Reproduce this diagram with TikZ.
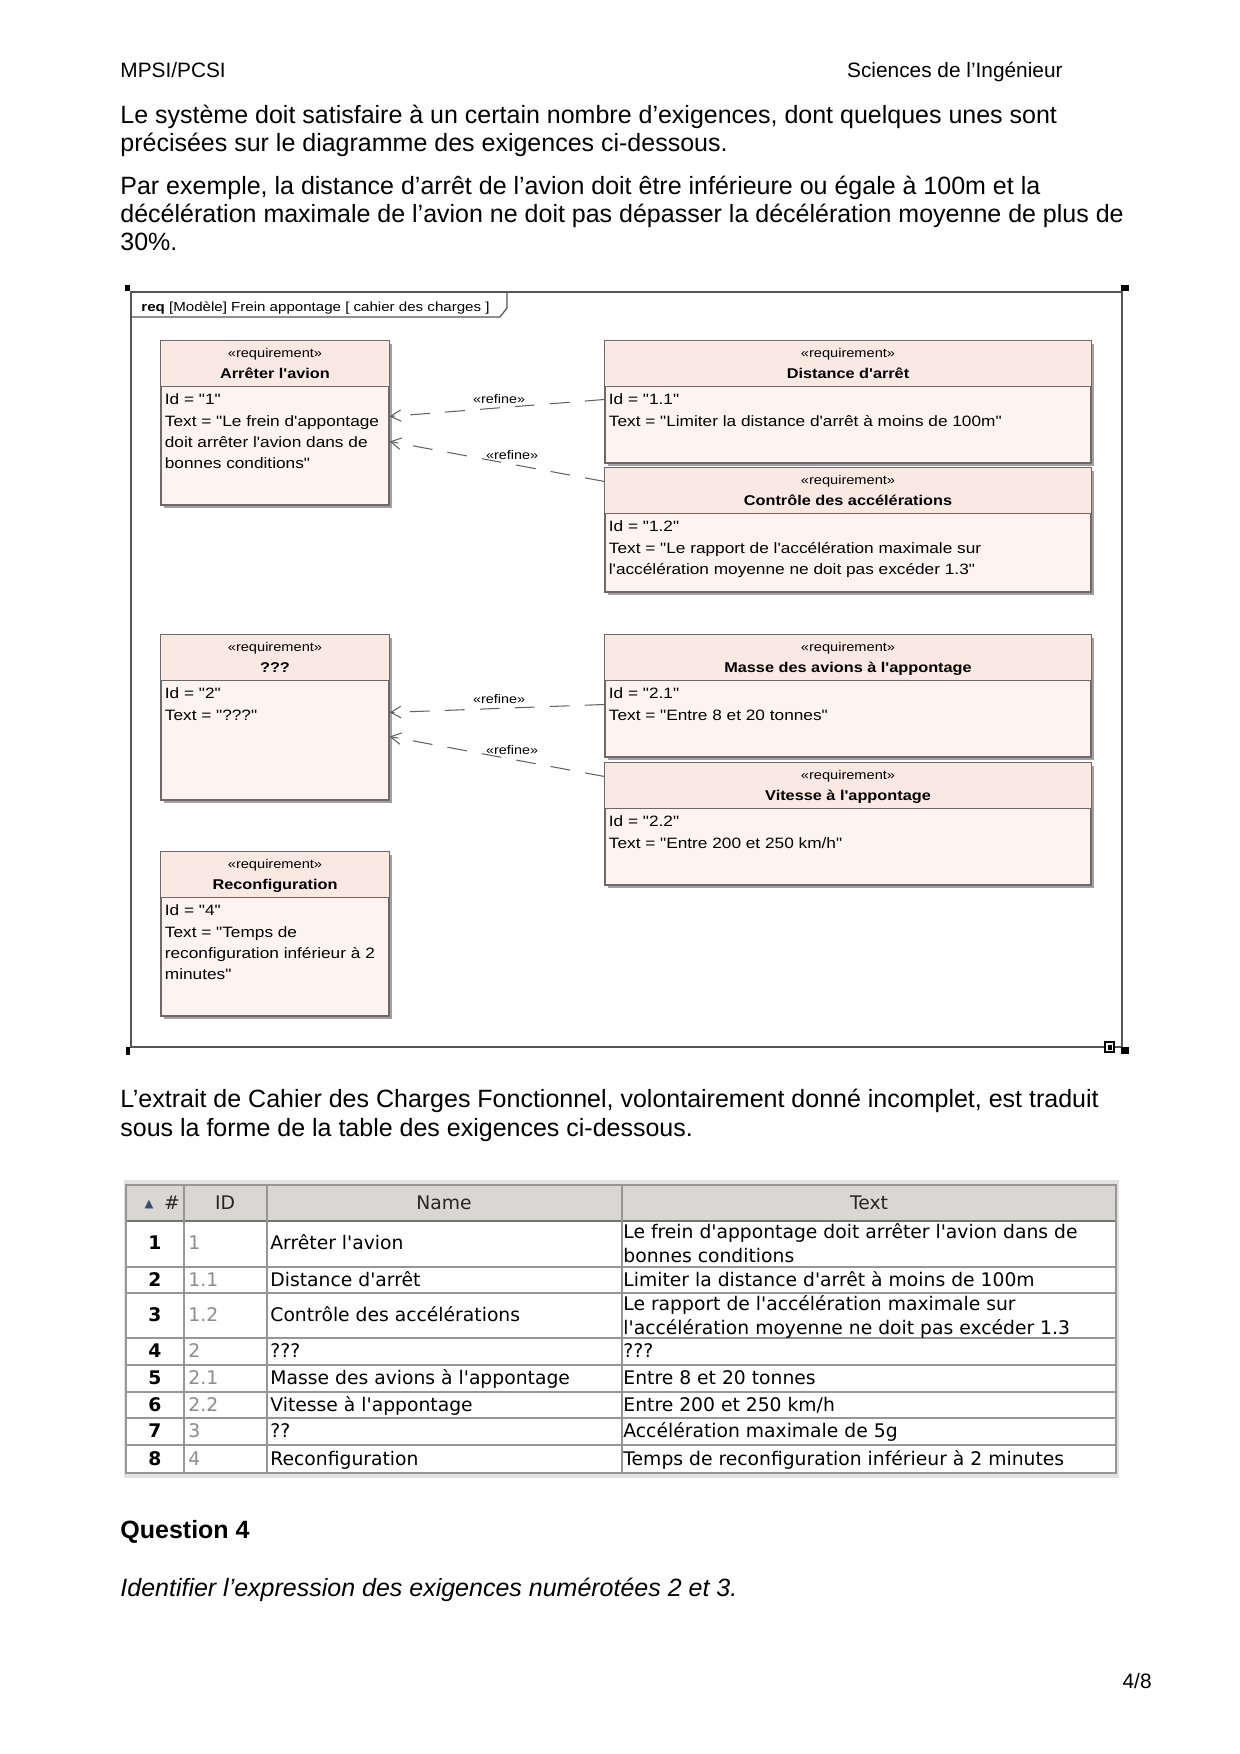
\documentclass[tikz,border=0pt]{standalone}
\usepackage{fontspec}
\setmainfont{Liberation Sans}
\newfontfamily\umlfont[FakeStretch=1.15,Ligatures=TeXOff]{Liberation Sans}
\newfontfamily\tabfont[Ligatures=TeXOff]{DejaVu Sans}
\usepackage{xcolor}
\usetikzlibrary{arrows.meta,positioning,calc,fit}

\definecolor{reqhead}{RGB}{250,232,226}
\definecolor{reqfill}{RGB}{253,243,240}
\definecolor{reqedge}{RGB}{110,104,104}
\definecolor{reqshadow}{RGB}{165,160,160}
\definecolor{framegray}{RGB}{85,85,85}
\definecolor{tabhead}{RGB}{217,215,211}
\definecolor{tabouter}{RGB}{226,226,224}
\definecolor{tabrule}{RGB}{150,150,150}
\definecolor{idgray}{RGB}{140,140,140}

\begin{document}
\begin{tikzpicture}[
  x=0.48pt, y=-0.48pt,
  every node/.style={inner sep=0pt},
  pagetxt/.style={font=\fontsize{12}{14}\selectfont, anchor=base west},
  req/.style={draw=reqedge, line width=0.5pt, fill=reqfill,
    preaction={fill=reqshadow, transform canvas={xshift=1.3pt,yshift=-1.3pt}}},
  headfill/.style={fill=reqhead},
  comp/.style={draw=reqedge, line width=0.5pt},
  stereo/.style={font=\umlfont\fontsize{6.1}{7}\selectfont, anchor=base},
  rname/.style={font=\umlfont\bfseries\fontsize{6.8}{8}\selectfont, anchor=base},
  rbody/.style={font=\umlfont\fontsize{7.2}{10.2}\selectfont, align=left, anchor=north west},
  refine/.style={draw=black!62, line width=0.5pt, dash pattern=on 9.5pt off 7.3pt,
    -{Straight Barb[length=5pt,width=5.5pt]}},
  rlbl/.style={font=\umlfont\fontsize{6}{7}\selectfont, text=black, above=2pt},
  tabtxt/.style={font=\tabfont\fontsize{9}{11}\selectfont, anchor=base west},
  tabline/.style={draw=tabrule, line width=0.5pt}
]
\useasboundingbox (0,0) rectangle (1240,1754);

% page text
\node[pagetxt, font=\fontsize{10}{12}\selectfont] (hdleft) at (120,77) {MPSI/PCSI};
\node[pagetxt, font=\fontsize{10}{12}\selectfont, anchor=base east] (hdright) at (1063,77) {Sciences de l’Ingénieur};
\node[pagetxt] (pa1) at (120,123) {Le système doit satisfaire à un certain nombre d’exigences, dont quelques unes sont};
\node[pagetxt] (pa2) at (120,151) {précisées sur le diagramme des exigences ci-dessous.};
\node[pagetxt] (pb1) at (120,194) {Par exemple, la distance d’arrêt de l’avion doit être inférieure ou égale à 100m et la};
\node[pagetxt] (pb2) at (120,222) {décélération maximale de l’avion ne doit pas dépasser la décélération moyenne de plus de};
\node[pagetxt] (pb3) at (120,250) {30\%.};

% diagram frame
\draw[framegray, line width=0.6pt] (131,292) rectangle (1122,1047);
\draw[framegray, line width=0.6pt] (507,292) -- (507,308) -- (500,317) -- (131,317);
\node[font=\umlfont\fontsize{6.3}{7}\selectfont, anchor=base west] (frametab) at (141,311)
  {\textbf{req} [Modèle] Frein appontage [ cahier des charges ]};
\fill (125,285) rectangle (130,291);
\fill (1121,285) rectangle (1129,291);
\fill (1121,1047) rectangle (1129,1054);
\fill (126,1047) rectangle (130,1055);
\draw[line width=0.6pt, fill=white] (1105,1042) rectangle (1114,1052);
\fill (1107.5,1044.5) rectangle (1111.5,1049.5);

% requirements
\node[req, fit={(161,341) (389,505)}] (r1) {};
\fill[headfill] ($(r1.north west)+(0.6,0.6)$) rectangle ($(r1.north east)+(-0.6,46)$);
\draw[comp] ($(r1.north west)+(0,46)$) -- ($(r1.north east)+(0,46)$);
\node[stereo] (r1s) at ($(r1.north)+(0,17)$) {«requirement»};
\node[rname] (r1n) at ($(r1.north)+(0,38)$) {Arrêter l'avion};
\node[rbody] (r1b) at ($(r1.north west)+(4,53)$) {Id = "1"\\Text = "Le frein d'appontage\\doit arrêter l'avion dans de\\bonnes conditions"};

\node[req, fit={(605,341) (1091,463)}] (r11) {};
\fill[headfill] ($(r11.north west)+(0.6,0.6)$) rectangle ($(r11.north east)+(-0.6,46)$);
\draw[comp] ($(r11.north west)+(0,46)$) -- ($(r11.north east)+(0,46)$);
\node[stereo] (r11s) at ($(r11.north)+(0,17)$) {«requirement»};
\node[rname] (r11n) at ($(r11.north)+(0,38)$) {Distance d'arrêt};
\node[rbody] (r11b) at ($(r11.north west)+(4,53)$) {Id = "1.1"\\Text = "Limiter la distance d'arrêt à moins de 100m"};

\node[req, fit={(605,468) (1091,592)}] (r12) {};
\fill[headfill] ($(r12.north west)+(0.6,0.6)$) rectangle ($(r12.north east)+(-0.6,46)$);
\draw[comp] ($(r12.north west)+(0,46)$) -- ($(r12.north east)+(0,46)$);
\node[stereo] (r12s) at ($(r12.north)+(0,17)$) {«requirement»};
\node[rname] (r12n) at ($(r12.north)+(0,38)$) {Contrôle des accélérations};
\node[rbody] (r12b) at ($(r12.north west)+(4,53)$) {Id = "1.2"\\Text = "Le rapport de l'accélération maximale sur\\l'accélération moyenne ne doit pas excéder 1.3"};

\node[req, fit={(161,635) (389,800)}] (r2) {};
\fill[headfill] ($(r2.north west)+(0.6,0.6)$) rectangle ($(r2.north east)+(-0.6,46)$);
\draw[comp] ($(r2.north west)+(0,46)$) -- ($(r2.north east)+(0,46)$);
\node[stereo] (r2s) at ($(r2.north)+(0,17)$) {«requirement»};
\node[rname] (r2n) at ($(r2.north)+(0,38)$) {???};
\node[rbody] (r2b) at ($(r2.north west)+(4,53)$) {Id = "2"\\Text = "???"};

\node[req, fit={(605,635) (1091,757)}] (r21) {};
\fill[headfill] ($(r21.north west)+(0.6,0.6)$) rectangle ($(r21.north east)+(-0.6,46)$);
\draw[comp] ($(r21.north west)+(0,46)$) -- ($(r21.north east)+(0,46)$);
\node[stereo] (r21s) at ($(r21.north)+(0,17)$) {«requirement»};
\node[rname] (r21n) at ($(r21.north)+(0,38)$) {Masse des avions à l'appontage};
\node[rbody] (r21b) at ($(r21.north west)+(4,53)$) {Id = "2.1"\\Text = "Entre 8 et 20 tonnes"};

\node[req, fit={(605,763) (1091,885)}] (r22) {};
\fill[headfill] ($(r22.north west)+(0.6,0.6)$) rectangle ($(r22.north east)+(-0.6,46)$);
\draw[comp] ($(r22.north west)+(0,46)$) -- ($(r22.north east)+(0,46)$);
\node[stereo] (r22s) at ($(r22.north)+(0,17)$) {«requirement»};
\node[rname] (r22n) at ($(r22.north)+(0,38)$) {Vitesse à l'appontage};
\node[rbody] (r22b) at ($(r22.north west)+(4,53)$) {Id = "2.2"\\Text = "Entre 200 et 250 km/h"};

\node[req, fit={(161,852) (389,1016)}] (r4) {};
\fill[headfill] ($(r4.north west)+(0.6,0.6)$) rectangle ($(r4.north east)+(-0.6,46)$);
\draw[comp] ($(r4.north west)+(0,46)$) -- ($(r4.north east)+(0,46)$);
\node[stereo] (r4s) at ($(r4.north)+(0,17)$) {«requirement»};
\node[rname] (r4n) at ($(r4.north)+(0,38)$) {Reconfiguration};
\node[rbody] (r4b) at ($(r4.north west)+(4,53)$) {Id = "4"\\Text = "Temps de\\reconfiguration inférieur à 2\\minutes"};

% refine links
\draw[refine] ($(r11.north west)+(0,59)$) -- node[rlbl, pos=0.49] (l11) {«refine»} ($(r1.north east)+(0,76)$);
\draw[refine] ($(r12.north west)+(0,14)$) -- node[rlbl, pos=0.43] (l12) {«refine»} ($(r1.north east)+(0,101)$);
\draw[refine] ($(r21.north west)+(0,70)$) -- node[rlbl, pos=0.49] (l21) {«refine»} ($(r2.north east)+(0,78)$);
\draw[refine] ($(r22.north west)+(0,14)$) -- node[rlbl, pos=0.43] (l22) {«refine»} ($(r2.north east)+(0,102)$);

% paragraph between
\node[pagetxt] (pc1) at (120,1107) {L’extrait de Cahier des Charges Fonctionnel, volontairement donné incomplet, est traduit};
\node[pagetxt] (pc2) at (120,1136) {sous la forme de la table des exigences ci-dessous.};

% table of requirements
\fill[tabouter] (124,1180) rectangle (1119,1478);
\fill[tabhead] (126,1185) rectangle (1116,1221);
\fill[white] (126,1221) rectangle (1116,1473);
\foreach \yy in {1267,1293,1338,1392,1418}
  \draw[tabline] (126,\yy) -- (1116,\yy);
\foreach \yy in {1365,1445}
  \draw[tabline, line width=1pt] (126,\yy) -- (1116,\yy);
\draw[tabline, draw=black!55, line width=1.2pt] (126,1221) -- (1116,1221);
\foreach \xx in {184,267,622}
  \draw[tabline] (\xx,1185) -- (\xx,1473);
\draw[tabline] (126,1185) rectangle (1116,1473);

\node[tabtxt, font=\tabfont\fontsize{5.5}{6}\selectfont, text={rgb,255:red,60;green,75;blue,110}, anchor=base] (hsort) at (149,1207) {▲};
\node[tabtxt, anchor=base, text=black!85] (hnum) at (172,1209) {\#};
\node[tabtxt, anchor=base, text=black!85] (hid) at (225,1209) {ID};
\node[tabtxt, anchor=base, text=black!85] (hname) at (444,1209) {Name};
\node[tabtxt, anchor=base, text=black!85] (htext) at (869,1209) {Text};

\foreach \n/\id/\nm/\yb in {1/1/Arrêter l'avion/1249, 2/1.1/Distance d'arrêt/1286,
    3/1.2/Contrôle des accélérations/1321.5, 4/2/???/1357.5, 5/2.1/Masse des avions à l'appontage/1384.5,
    6/2.2/Vitesse à l'appontage/1411, 7/3/??/1437.5, 8/4/Reconfiguration/1465}
{
  \node[tabtxt, anchor=base, font=\tabfont\bfseries\fontsize{9}{11}\selectfont] (num\n) at (155,\yb) {\n};
  \node[tabtxt, text=idgray] (id\n) at (188,\yb) {\id};
  \node[tabtxt] (nm\n) at (270,\yb) {\nm};
}
\foreach \yb/\tx [count=\k] in {1238/Le frein d'appontage doit arrêter l'avion dans de, 1262/bonnes conditions,
    1286/Limiter la distance d'arrêt à moins de 100m, 1310/Le rapport de l'accélération maximale sur,
    1334/l'accélération moyenne ne doit pas excéder 1.3, 1357.5/???, 1384.5/Entre 8 et 20 tonnes,
    1411/{Entre 200 et 250 km/h}, 1437.5/Accélération maximale de 5g, 1465/Temps de reconfiguration inférieur à 2 minutes}
  \node[tabtxt] (tx\k) at (623,\yb) {\tx};

% question
\node[pagetxt, font=\bfseries\fontsize{12}{14}\selectfont] (qtitle) at (120,1538) {Question 4};
\node[pagetxt, font=\itshape\fontsize{12}{14}\selectfont] (qtext) at (120,1596) {Identifier l’expression des exigences numérotées 2 et 3.};
\node[pagetxt, font=\fontsize{10}{12}\selectfont, anchor=base east] (pnum) at (1152,1688) {4/8};
\end{tikzpicture}
\end{document}
